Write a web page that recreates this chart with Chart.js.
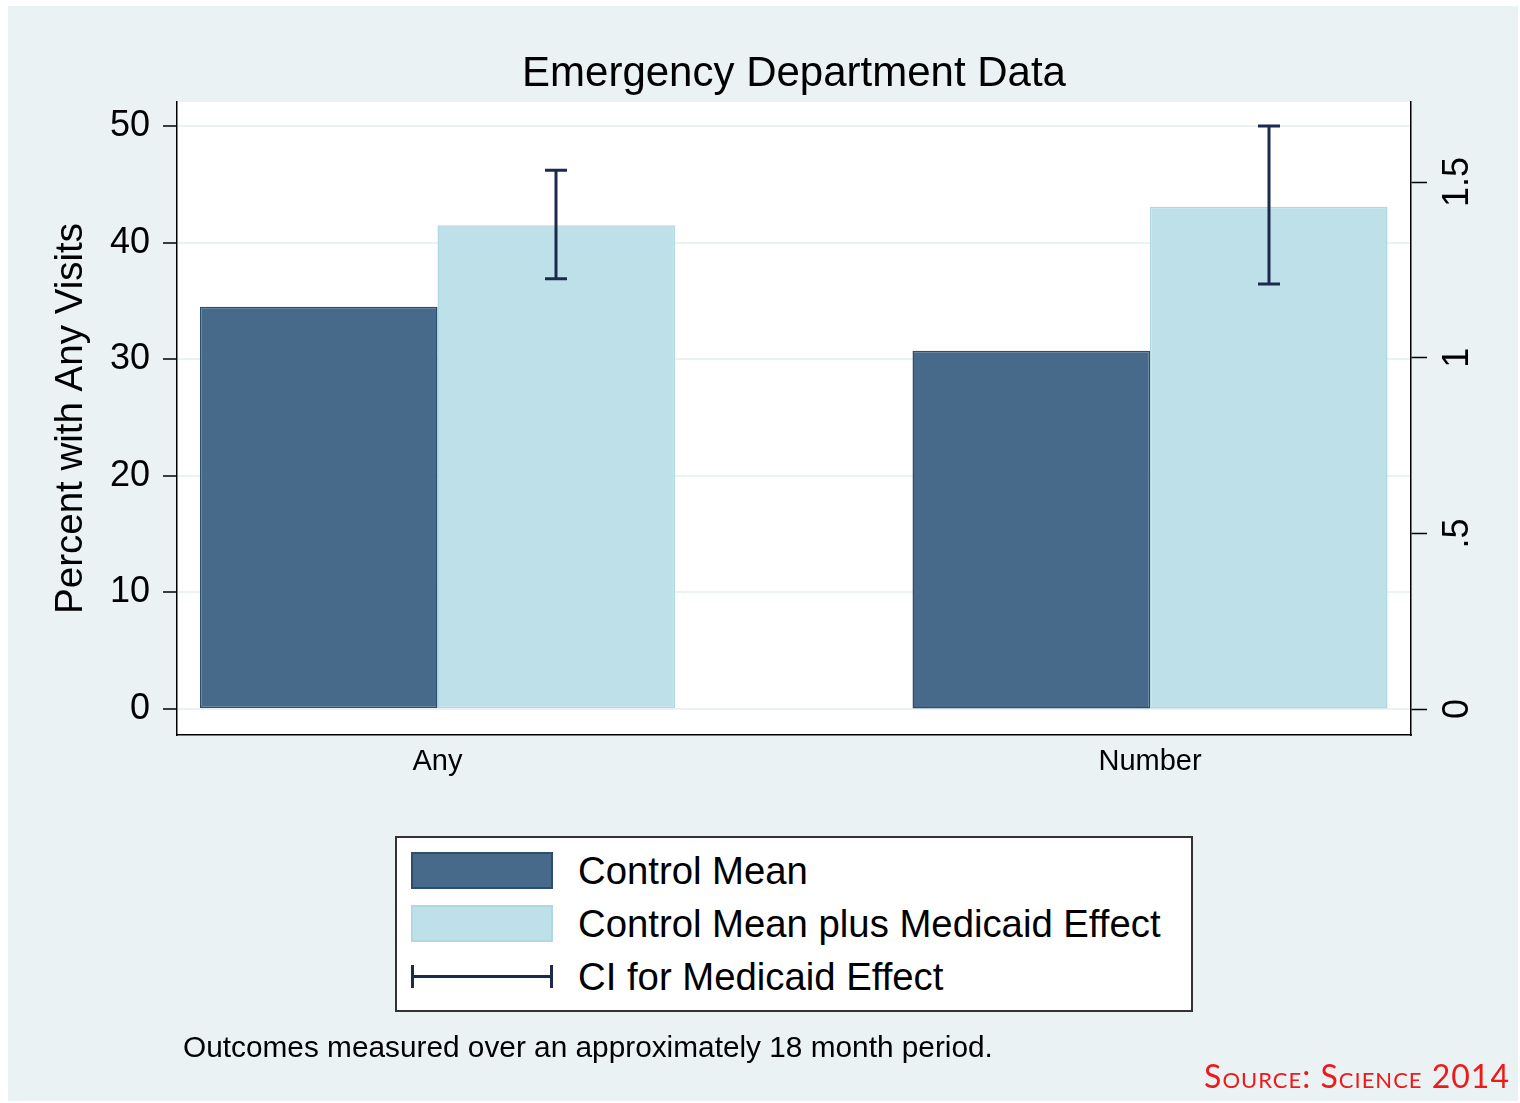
<!DOCTYPE html>
<html>
<head>
<meta charset="utf-8">
<title>Emergency Department Data</title>
<script src="https://cdn.jsdelivr.net/npm/chart.js@4.4.1/dist/chart.umd.min.js"></script>
<style>
  body { margin: 0; background: #fff; font-family: "Liberation Sans", Arial, sans-serif; }
  #wrap { position: relative; width: 1520px; height: 1103px; overflow: hidden; }
  #panel { position: absolute; left: 8px; top: 6px; width: 1510px; height: 1095px; background: #eaf2f3; }
  #chart { position: absolute; left: 0; top: 0; }
  #legend { position: absolute; left: 395px; top: 836px; width: 794px; height: 172px;
            border: 2px solid #333; background: #fff; }
  .row { position: absolute; left: 14px; height: 37px; display: flex; align-items: center; }
  .swatch { width: 142px; height: 37px; box-sizing: border-box; border: 2px solid; }
  .ci { position: relative; width: 142px; height: 23px; box-sizing: border-box;
        border-left: 3px solid; border-right: 3px solid; }
  .ci::after { content: ""; position: absolute; left: 0; right: 0; top: 10px; height: 3px; background: currentColor; }
  .row span { margin-left: 25px; font-size: 38.3px; line-height: 37px; color: #000; white-space: nowrap; }
  #note { position: absolute; left: 183px; top: 1031px; font-size: 29.8px; line-height: 32px; color: #000; }
  #source { position: absolute; right: 10px; top: 1056px; font-family: Lato, "Noto Sans", sans-serif;
            font-variant: small-caps; font-size: 32px; line-height: 40px; color: #f01818; letter-spacing: 1px; }
</style>
</head>
<body>
<div id="wrap">
  <div id="panel"></div>
  <canvas id="chart" width="1520" height="1103"></canvas>
  <div id="legend"></div>
  <div id="note">Outcomes measured over an approximately 18 month period.</div>
  <div id="source">Source: Science 2014</div>
</div>
<script>
// Any -> percent axis (left), Number -> visits axis (right)
const categories = ['Any', 'Number'];
const seriesNames = ['Control Mean', 'Control Mean plus Medicaid Effect', 'CI for Medicaid Effect'];
const controlMean = [34.5, 1.02];
const withEffect = [41.5, 1.43];
const ciLow = [36.9, 1.21];
const ciHigh = [46.2, 1.66];
const leftTicks = [0, 10, 20, 30, 40, 50];
const rightTicks = [0, 0.5, 1, 1.5];
const rightTickLabels = ['0', '.5', '1', '1.5'];
const axisFor = ['yL', 'yR'];

const DARK = '#486a8a';
const DARK_EDGE = '#2d4d6c';
const LIGHT = '#bee0e9';
const LIGHT_EDGE = '#b0d7e2';
const CI_COLOR = '#1d2a4d';
const FONT = '"Liberation Sans", Arial, sans-serif';

// one pair of bars per category, each on its own y axis
const datasets = [];
categories.forEach((cat, i) => {
    const only = arr => categories.map((c, j) => (j === i ? arr[j] : null));
    datasets.push({
        label: seriesNames[0], data: only(controlMean), yAxisID: axisFor[i],
        backgroundColor: DARK, borderColor: DARK_EDGE
    });
    datasets.push({
        label: seriesNames[1], data: only(withEffect), yAxisID: axisFor[i],
        backgroundColor: LIGHT, borderColor: LIGHT_EDGE
    });
});

const chartBg = {
    id: 'chartBg',
    beforeDraw(chart) {
        const {ctx, chartArea: a} = chart;
        ctx.save();
        ctx.fillStyle = '#fff';
        ctx.fillRect(a.left, a.top, a.right - a.left, a.bottom - a.top);
        ctx.restore();
    }
};

const ciBars = {
    id: 'ciBars',
    afterDatasetsDraw(chart) {
        const ctx = chart.ctx;
        ctx.save();
        ctx.strokeStyle = CI_COLOR;
        ctx.lineWidth = 3;
        categories.forEach((cat, i) => {
            const bar = chart.getDatasetMeta(i * 2 + 1).data[i];
            const scale = chart.scales[axisFor[i]];
            const x = Math.round(bar.x);
            const yTop = scale.getPixelForValue(ciHigh[i]);
            const yBot = scale.getPixelForValue(ciLow[i]);
            ctx.beginPath();
            ctx.moveTo(x, yTop); ctx.lineTo(x, yBot);
            ctx.moveTo(x - 11, yTop); ctx.lineTo(x + 11, yTop);
            ctx.moveTo(x - 11, yBot); ctx.lineTo(x + 11, yBot);
            ctx.stroke();
        });
        ctx.restore();
    }
};

const chart = new Chart(document.getElementById('chart'), {
    type: 'bar',
    data: {
        labels: categories.map((c, i) => i),
        datasets: datasets
    },
    options: {
        responsive: false,
        animation: false,
        devicePixelRatio: 1,
        layout: { padding: { left: 0, right: 0, top: 0, bottom: 308 } },
        datasets: {
            bar: {
                skipNull: true,
                borderWidth: 1.5,
                borderSkipped: false,
                categoryPercentage: 0.6667,
                barPercentage: 1
            }
        },
        plugins: {
            legend: { display: false },
            tooltip: { enabled: false },
            title: {
                display: true,
                text: 'Emergency Department Data',
                color: '#000',
                fullSize: false,
                font: { family: FONT, size: 42, weight: 'normal' },
                padding: { top: 49, bottom: 2.6 }
            }
        },
        scales: {
            x: {
                type: 'linear',
                offset: false,
                min: -0.3656,
                max: 1.3663,
                afterBuildTicks: s => { s.ticks = categories.map((c, i) => ({ value: i })); },
                afterFit: s => { s.height = 60; },
                grid: { display: false, drawTicks: false },
                border: { display: true, color: '#000', width: 1.5 },
                ticks: {
                    color: '#000',
                    padding: 10,
                    font: { family: FONT, size: 29 },
                    callback: v => categories[v]
                }
            },
            yL: {
                type: 'linear',
                position: 'left',
                min: -2.23,
                max: 52.06,
                afterBuildTicks: s => { s.ticks = leftTicks.map(v => ({ value: v })); },
                afterFit: s => { s.width = 177; },
                grid: { color: '#eaf2f3', lineWidth: 2, tickColor: '#000', tickWidth: 1.5, tickLength: 14 },
                border: { display: true, color: '#000', width: 1.5 },
                ticks: { color: '#000', padding: 13, font: { family: FONT, size: 36 } },
                title: {
                    display: true,
                    text: 'Percent with Any Visits',
                    color: '#000',
                    font: { family: FONT, size: 38.5 },
                    padding: { top: 48, bottom: 0 }
                }
            },
            yR: {
                type: 'linear',
                position: 'right',
                min: -0.074,
                max: 1.728,
                afterBuildTicks: s => { s.ticks = rightTicks.map(v => ({ value: v })); },
                afterFit: s => { s.width = 109; },
                grid: { drawOnChartArea: false, tickColor: '#000', tickWidth: 1.5, tickLength: 16 },
                border: { display: true, color: '#000', width: 1.5 },
                ticks: {
                    color: '#000',
                    padding: 6,
                    minRotation: 90,
                    maxRotation: 90,
                    crossAlign: 'center',
                    font: { family: FONT, size: 36 },
                    callback: (v, i) => rightTickLabels[i]
                }
            }
        }
    },
    plugins: [chartBg, ciBars]
});

// legend drawn as html, one entry per row like the original
const legendEl = document.getElementById('legend');
const rowTops = [14, 67, 120];
seriesNames.forEach((name, i) => {
    const row = document.createElement('div');
    row.className = 'row';
    row.style.top = rowTops[i] + 'px';
    const sw = document.createElement('div');
    if (i < 2) {
        const ds = chart.data.datasets[i];
        sw.className = 'swatch';
        sw.style.background = ds.backgroundColor;
        sw.style.borderColor = ds.borderColor;
    } else {
        sw.className = 'ci';
        sw.style.color = CI_COLOR;
        sw.style.borderColor = CI_COLOR;
    }
    const label = document.createElement('span');
    label.textContent = name;
    row.appendChild(sw);
    row.appendChild(label);
    legendEl.appendChild(row);
});
</script>
</body>
</html>
